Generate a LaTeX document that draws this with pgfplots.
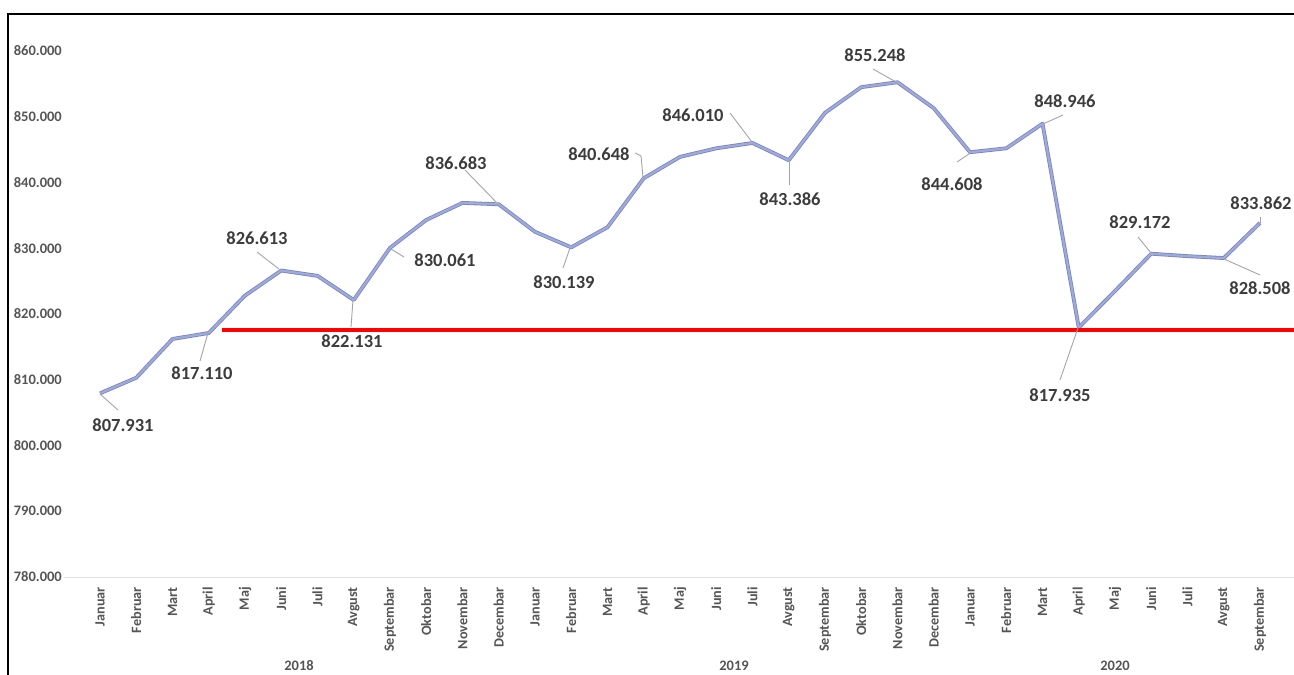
\documentclass[border=0pt]{standalone}
\usepackage{fontspec}
\setmainfont{Carlito}
\usepackage{pgfplots}
\pgfplotsset{compat=1.18}
\definecolor{lineblue}{RGB}{155,170,230}
\definecolor{lineedge}{RGB}{128,134,162}
\definecolor{lblgray}{RGB}{60,60,60}
\definecolor{axgray}{RGB}{85,85,85}
\definecolor{leader}{RGB}{165,165,165}
\pgfplotstableread{
i v
0 807.931
1 810.3
2 816.2
3 817.110
4 822.8
5 826.613
6 825.8
7 822.131
8 830.061
9 834.3
10 836.9
11 836.683
12 832.5
13 830.139
14 833.2
15 840.648
16 843.9
17 845.2
18 846.010
19 843.386
20 850.6
21 854.5
22 855.248
23 851.3
24 844.608
25 845.2
26 848.946
27 817.935
28 823.5
29 829.172
30 828.8
31 828.508
32 833.862
}\datatable
\usepackage{pgfplotstable}
\newcommand\lab[3]{\node[font=\bfseries\fontsize{18.5}{22}\selectfont, text=lblgray, inner sep=0pt] at (#1pt,{675pt-#2pt}) {#3};}
\newcommand\ld[4]{\draw[leader, line width=0.9pt] (#1pt,{675pt-#2pt}) -- (#3pt,{675pt-#4pt});}
\begin{document}
\begin{tikzpicture}
\path[use as bounding box, fill=white] (0pt,0pt) rectangle (1294pt,675pt);
\begin{axis}[
  at={(63.75pt,98pt)}, anchor=south west,
  scale only axis, width=1230.25pt, height=526pt,
  xmin=-1, xmax=32.938, ymin=780, ymax=860,
  clip=false,
  axis lines*=left,
  x axis line style={-, draw=black!12, line width=0.8pt},
  y axis line style={draw=none},
  major tick length=0pt,
  ytick={780,790,...,860},
  yticklabels={780.000,790.000,800.000,810.000,820.000,830.000,840.000,850.000,860.000},
  yticklabel style={anchor=east, inner sep=0pt, font=\bfseries\fontsize{14.5}{17}\selectfont, text=axgray},
  yticklabel shift=1.75pt,
  xtick={0,...,32},
  xticklabels={Januar,Februar,Mart,April,Maj,Juni,Juli,Avgust,Septembar,Oktobar,Novembar,Decembar,Januar,Februar,Mart,April,Maj,Juni,Juli,Avgust,Septembar,Oktobar,Novembar,Decembar,Januar,Februar,Mart,April,Maj,Juni,Juli,Avgust,Septembar},
  xticklabel style={rotate=90, anchor=east, inner sep=0pt, font=\bfseries\fontsize{14.2}{17}\selectfont, text=axgray},
  xticklabel shift=10pt,
]
\addplot[draw=lineedge, double=lineblue, double distance=2.2pt, line width=0.8pt, line join=round, mark=none] table[x=i, y=v] {\datatable};
\addplot[draw=red, line width=4pt, mark=none] coordinates {(3.366,817.57) (32.938,817.57)};
\end{axis}
% year labels
\node[anchor=base, font=\bfseries\fontsize{14.5}{17}\selectfont, text=axgray] at (299pt,4pt) {2018};
\node[anchor=base, font=\bfseries\fontsize{14.5}{17}\selectfont, text=axgray] at (734pt,4pt) {2019};
\node[anchor=base, font=\bfseries\fontsize{14.5}{17}\selectfont, text=axgray] at (1115pt,4pt) {2020};
% leaders
\ld{100}{394}{118}{410}
\ld{208}{333}{200}{361}
\ld{257}{252}{279}{269}
\ld{353}{300}{351}{327}
\ld{391}{249}{404}{257}
\ld{465}{170}{497}{203}
\ld{570}{248}{563}{268}
\ld{635}{153}{641}{156}
\ld{641}{156}{643}{177}
\ld{730}{113}{752}{142}
\ld{789}{162}{789}{185}
\ld{873}{69}{896}{82}
\ld{969}{154}{957}{162}
\ld{1063}{115}{1043}{124}
\ld{1078}{328}{1060}{380}
\ld{1138}{237}{1151}{253}
\ld{1224}{259}{1260}{275}
\ld{1260}{217}{1260}{223}
% data labels
\lab{123}{425}{807.931}
\lab{202}{373}{817.110}
\lab{257}{238}{826.613}
\lab{352}{341}{822.131}
\lab{445}{260}{830.061}
\lab{456}{163}{836.683}
\lab{564}{282}{830.139}
\lab{599}{154}{840.648}
\lab{693}{115}{846.010}
\lab{790}{199}{843.386}
\lab{875}{55}{855.248}
\lab{952}{184}{844.608}
\lab{1065}{101}{848.946}
\lab{1060}{395}{817.935}
\lab{1140}{222}{829.172}
\lab{1260}{288}{828.508}
\lab{1261}{203}{833.862}
% frame
\draw[black, line width=2pt] (8pt,0pt) -- (8pt,661pt) -- (1300pt,661pt);
\end{tikzpicture}
\end{document}
